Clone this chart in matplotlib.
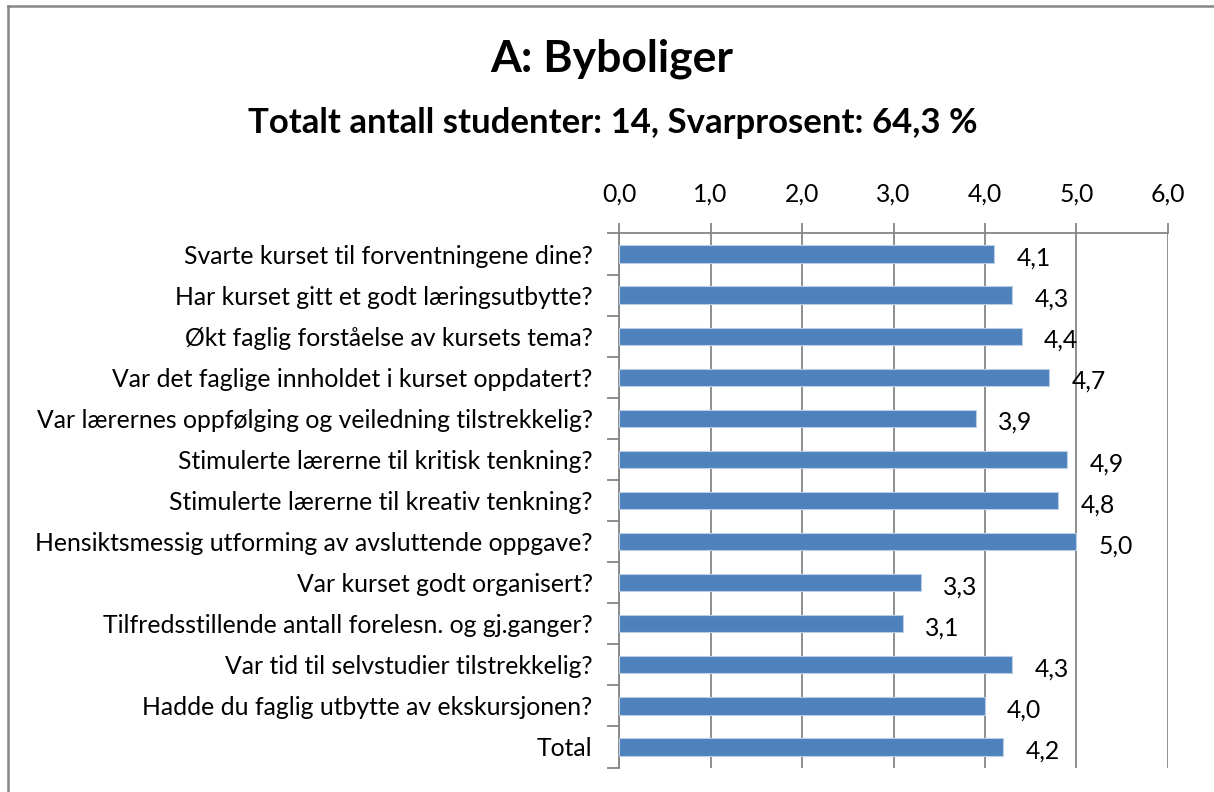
import matplotlib.pyplot as plt
from matplotlib.lines import Line2D

questions = [
    "Svarte kurset til forventningene dine?",
    "Har kurset gitt et godt læringsutbytte?",
    "Økt faglig forståelse av kursets tema?",
    "Var det faglige innholdet i kurset oppdatert?",
    "Var lærernes oppfølging og veiledning tilstrekkelig?",
    "Stimulerte lærerne til kritisk tenkning?",
    "Stimulerte lærerne til kreativ tenkning?",
    "Hensiktsmessig utforming av avsluttende oppgave?",
    "Var kurset godt organisert?",
    "Tilfredsstillende antall forelesn. og gj.ganger?",
    "Var tid til selvstudier tilstrekkelig?",
    "Hadde du faglig utbytte av ekskursjonen?",
    "Total",
]
scores = [4.1, 4.3, 4.4, 4.7, 3.9, 4.9, 4.8, 5.0, 3.3, 3.1, 4.3, 4.0, 4.2]
xticks = [0, 1, 2, 3, 4, 5, 6]

title = "A: Byboliger"
subtitle = "Totalt antall studenter: 14, Svarprosent: 64,3 %"

def komma(v):
    return f"{v:.1f}".replace(".", ",")

plt.rcParams["font.family"] = ["Lato", "DejaVu Sans"]
grey = "#868686"
blue = "#4F81BD"
fs = 17.8

fig = plt.figure(figsize=(12.14, 7.92), dpi=100)
ax = fig.add_axes([0.5099, 0.0309, 0.4522, 0.6743])

pos = list(range(len(questions)))
ax.barh(pos, scores, height=0.42, color=blue, edgecolor="#B9CDE5", linewidth=0.8, zorder=3)
for p, v in zip(pos, scores):
    ax.annotate(komma(v), (v, p), xytext=(16, -3), textcoords="offset points",
                ha="left", va="center", fontsize=fs, color="black")

ax.set_xlim(0, 6)
ax.set_ylim(len(questions) - 0.5, -0.5)
ax.set_xticks(xticks)
ax.set_xticklabels([komma(t) for t in xticks], fontsize=fs)
ax.xaxis.tick_top()
ax.tick_params(axis="x", direction="out", length=7, width=1.3, color=grey, pad=13)

ax.set_yticks(pos)
ax.set_yticklabels(questions, fontsize=fs)
ax.set_yticks([p - 0.5 for p in pos] + [len(pos) - 0.5], minor=True)
ax.tick_params(axis="y", which="major", length=0, pad=19)
ax.tick_params(axis="y", which="minor", direction="out", length=9, width=1.3, color=grey)

ax.grid(axis="x", color=grey, linewidth=1.3, zorder=0)
for s in ["right", "bottom"]:
    ax.spines[s].set_visible(False)
for s in ["left", "top"]:
    ax.spines[s].set_color(grey)
    ax.spines[s].set_linewidth(1.3)

fig.text(0.504, 0.926, title, ha="center", va="center", fontsize=32, fontweight="bold")
fig.text(0.505, 0.845, subtitle, ha="center", va="center", fontsize=25, fontweight="bold")

# chart frame (top and left edges visible)
fig.add_artist(Line2D([0.0066, 0.0066], [0, 0.9924], transform=fig.transFigure, color=grey, linewidth=1.8))
fig.add_artist(Line2D([0.0066, 1], [0.9924, 0.9924], transform=fig.transFigure, color=grey, linewidth=1.8))

fig.savefig("out.png", dpi=100)
